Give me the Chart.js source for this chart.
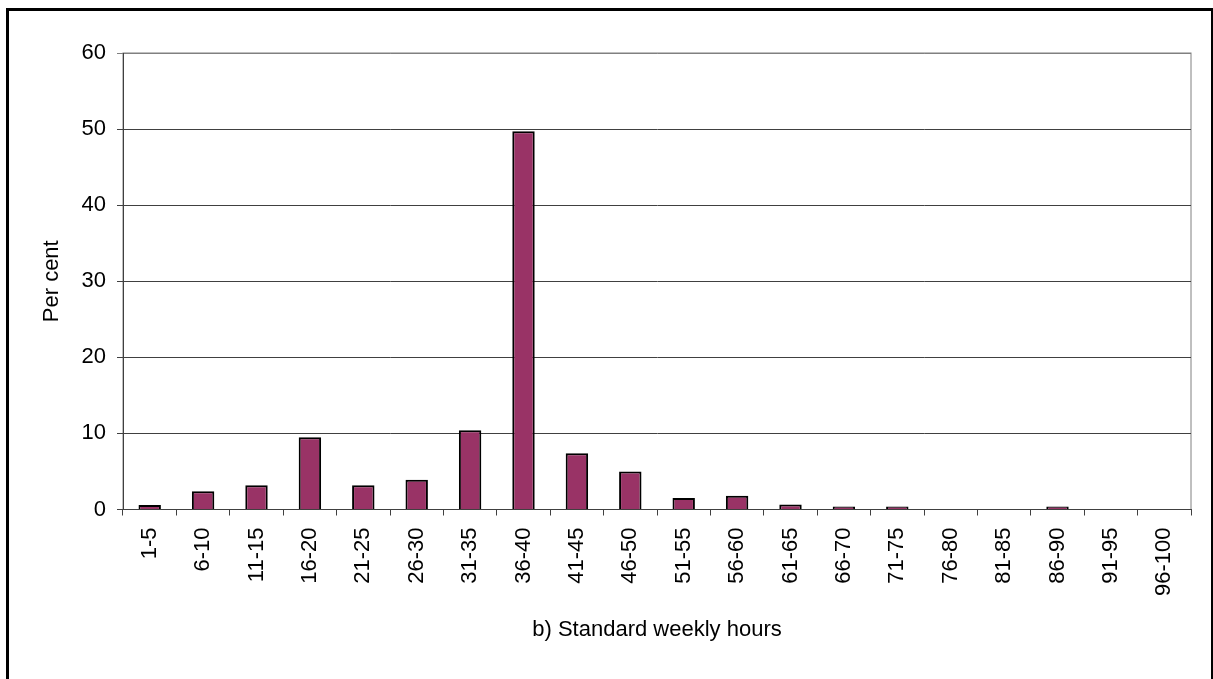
<!DOCTYPE html>
<html>
<head>
<meta charset="utf-8">
<script src="https://cdn.jsdelivr.net/npm/chart.js@4/dist/chart.umd.min.js"></script>
<style>
  html, body { margin: 0; padding: 0; background: #fff; }
  #wrap { width: 1213px; height: 679px; }
</style>
</head>
<body>
<div id="wrap"><canvas id="chart" width="1213" height="679"></canvas></div>
<script>
const categories = ['1-5', '6-10', '11-15', '16-20', '21-25', '26-30', '31-35', '36-40', '41-45', '46-50',
	'51-55', '56-60', '61-65', '66-70', '71-75', '76-80', '81-85', '86-90', '91-95', '96-100'];
const perCent = [0.6, 2.4, 3.2, 9.5, 3.2, 3.9, 10.4, 49.7, 7.4, 5.0, 1.5, 1.8, 0.65, 0.4, 0.4, 0, 0, 0.4, 0, 0];
const yTicks = [0, 10, 20, 30, 40, 50, 60];

const fontFamily = '"Liberation Sans", Arial, sans-serif';

// white background, outer frame and grey plot border
const framePlugin = {
	id: 'frame',
	beforeDraw(chart) {
		const { ctx, chartArea } = chart;
		ctx.save();
		ctx.fillStyle = '#fff';
		ctx.fillRect(0, 0, chart.width, chart.height);
		ctx.strokeStyle = '#000';
		ctx.lineWidth = 3;
		ctx.strokeRect(7.5, 9.5, 1205, 690);
		ctx.strokeStyle = '#808080';
		ctx.lineWidth = 1;
		ctx.strokeRect(chartArea.left, chartArea.top, chartArea.right - chartArea.left, chartArea.bottom - chartArea.top);
		ctx.restore();
	},
};

new Chart(document.getElementById('chart'), {
	type: 'bar',
	data: {
		labels: categories,
		datasets: [
			{
				label: 'Per cent',
				data: perCent,
				backgroundColor: '#993366',
				borderColor: '#000',
				borderWidth: 2,
				categoryPercentage: 1,
				barPercentage: 0.42,
			},
		],
	},
	options: {
		responsive: false,
		animation: false,
		layout: { padding: { left: 0, top: 53, right: 22, bottom: 0 } },
		plugins: {
			legend: { display: false },
			tooltip: { enabled: false },
		},
		scales: {
			x: {
				offset: true,
				afterFit: (scale) => { scale.height = 169.5; },
				grid: {
					offset: true,
					drawOnChartArea: false,
					drawTicks: true,
					tickLength: 6,
					color: '#404040',
				},
				border: { color: '#404040', width: 1 },
				ticks: {
					minRotation: 90,
					maxRotation: 90,
					autoSkip: false,
					padding: 12,
					color: '#000',
					font: { family: fontFamily, size: 22 },
				},
				title: {
					display: true,
					text: 'b) Standard weekly hours',
					color: '#000',
					font: { family: fontFamily, size: 22 },
					padding: { top: 0, bottom: 36 },
				},
			},
			y: {
				min: 0,
				max: 60,
				afterFit: (scale) => { scale.width = 123; },
				afterBuildTicks: (scale) => { scale.ticks = yTicks.map((v) => ({ value: v })); },
				grid: {
					color: (c) => (c.tick && c.tick.value === 60 ? '#808080' : '#404040'),
					tickLength: 6,
				},
				border: { color: '#404040', width: 1 },
				ticks: {
					padding: 11,
					color: '#000',
					font: { family: fontFamily, size: 22 },
				},
				title: {
					display: true,
					text: 'Per cent',
					color: '#000',
					font: { family: fontFamily, size: 22 },
					padding: { top: 39, bottom: 0 },
				},
			},
		},
	},
	plugins: [framePlugin],
});
</script>
</body>
</html>
